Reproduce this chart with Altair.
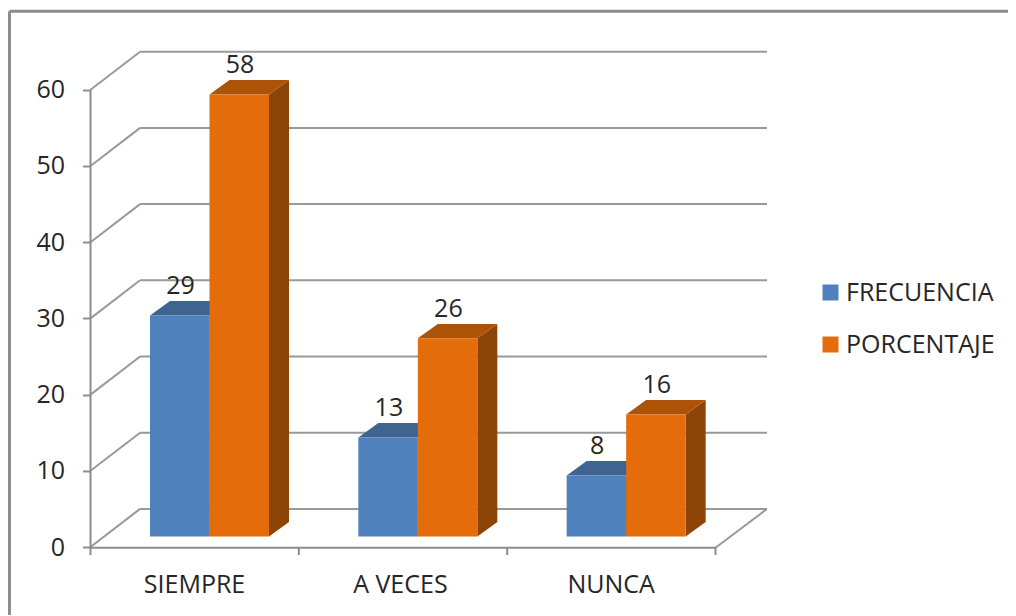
import altair as alt
import pandas as pd

categories = ["SIEMPRE", "A VECES", "NUNCA"]
series = ["FRECUENCIA", "PORCENTAJE"]
frecuencia = [29, 13, 8]
porcentaje = [58, 26, 16]
y_ticks = [0, 10, 20, 30, 40, 50, 60]

front_colors = ["#4f81bd", "#e46c0a"]
top_colors = ["#3e648f", "#ac5307"]
side_colors = ["#32527a", "#8e4406"]
line_color = "#999999"
frame_color = "#8c8c8c"
text_color = "#262626"
font = "Open Sans"

# Fake-3D geometry, in scale units (one category = 1 on x, one value = 1 on y)
X_MAX = 3.2472
Y_MAX = 65.09
WALL_DX, WALL_DY = 0.238, 5.0
BAR_W, BAR_DX, BAR_DY, BAR_BASE = 0.2856, 0.096, 1.9, 1.38

x_scale = alt.Scale(domain=[0, X_MAX], nice=False, zero=False)
y_scale = alt.Scale(domain=[0, Y_MAX], nice=False, zero=False)


def X(f, **kw):
    kw.setdefault("axis", None)
    return alt.X(f"{f}:Q", scale=x_scale, **kw)


def Y(f, **kw):
    kw.setdefault("axis", None)
    return alt.Y(f"{f}:Q", scale=y_scale, **kw)


def X2(f):
    return alt.X2(f"{f}")


def Y2(f):
    return alt.Y2(f"{f}")


# Rows
front, side, top, labels = [], [], [], []
for c, cat in enumerate(categories):
    for s, vals in enumerate([frecuencia, porcentaje]):
        v = vals[c]
        l = c + BAR_W * (s + 1)
        r = l + BAR_W
        key = f"{c}-{s}"
        front.append(dict(l=l, r=r, b=BAR_BASE, t=BAR_BASE + v, serie=series[s]))
        side.append(dict(k=key, s=s, x=r, y=BAR_BASE, y2=BAR_BASE + v))
        side.append(dict(k=key, s=s, x=r + BAR_DX, y=BAR_BASE + BAR_DY, y2=BAR_BASE + BAR_DY + v))
        top.append(dict(k=key, s=s, y=BAR_BASE + v, x=l, x2=r))
        top.append(dict(k=key, s=s, y=BAR_BASE + v + BAR_DY, x=l + BAR_DX, x2=r + BAR_DX))
        labels.append(dict(x=(l + r) / 2 + 0.004, y=BAR_BASE + v + BAR_DY, txt=str(v)))

grid_back = pd.DataFrame([dict(x=WALL_DX, x2=X_MAX, y=t + WALL_DY) for t in y_ticks])
grid_diag = pd.DataFrame(
    [dict(x=0, x2=WALL_DX, y=t, y2=t + WALL_DY) for t in y_ticks]
    + [dict(x=3, x2=X_MAX, y=-0.1, y2=WALL_DY)]
)
axis_lines = pd.DataFrame([
    dict(x=0, x2=0, y=-1.05, y2=60),
    dict(x=0, x2=3, y=-0.1, y2=-0.1),
    dict(x=1, x2=1, y=-1.05, y2=0),
    dict(x=2, x2=2, y=-1.05, y2=0),
    dict(x=3, x2=3, y=-1.05, y2=0),
])
frame = pd.DataFrame([
    dict(x=-0.389, x2=4.45, y=70.3, y2=70.3),
    dict(x=-0.389, x2=-0.389, y=70.3, y2=-9.5),
])
cat_pos = [0.497, 1.485, 2.497]
label_expr = "[" + ",".join(f"'{c}'" for c in categories) + "][round(datum.value-0.5)]"

base_axes = (
    alt.Chart(pd.DataFrame(dict(x=[0.0], y=[0.0])))
    .mark_point(opacity=0)
    .encode(
        x=X("x", axis=alt.Axis(values=cat_pos, labelExpr=label_expr, title=None, domain=False, ticks=False,
                               grid=False, labelPadding=25, labelFont=font, labelFontSize=25,
                               labelColor=text_color, labelBaseline="top", labelFlush=False)),
        y=Y("y", axis=alt.Axis(values=y_ticks, title=None, domain=False, grid=False, tickSize=8, tickWidth=2,
                               tickColor=frame_color, labelPadding=18, labelFont=font, labelFontSize=25,
                               labelColor=text_color)),
    )
)

frame_l = alt.Chart(frame).mark_rule(color=frame_color, strokeWidth=3).encode(
    x=X("x"), x2=X2("x2"), y=Y("y"), y2=Y2("y2"))
back_l = alt.Chart(grid_back).mark_rule(color=line_color, strokeWidth=2).encode(
    x=X("x"), x2=X2("x2"), y=Y("y"))
diag_l = alt.Chart(grid_diag).mark_rule(color=line_color, strokeWidth=2).encode(
    x=X("x"), x2=X2("x2"), y=Y("y"), y2=Y2("y2"))
axis_l = alt.Chart(axis_lines).mark_rule(color=frame_color, strokeWidth=2).encode(
    x=X("x"), x2=X2("x2"), y=Y("y"), y2=Y2("y2"))

side_l = alt.Chart(pd.DataFrame(side)).mark_area(orient="vertical").encode(
    x=X("x"), y=Y("y"), y2=Y2("y2"), detail="k:N",
    color=alt.Color("s:O", scale=alt.Scale(domain=[0, 1], range=side_colors), legend=None),
)
top_l = alt.Chart(pd.DataFrame(top)).mark_area(orient="horizontal").encode(
    y=Y("y"), x=X("x"), x2=X2("x2"), detail="k:N",
    color=alt.Color("s:O", scale=alt.Scale(domain=[0, 1], range=top_colors), legend=None),
)
front_l = alt.Chart(pd.DataFrame(front)).mark_rect().encode(
    x=X("l"), x2=X2("r"), y=Y("b"), y2=Y2("t"),
    color=alt.Color("serie:N", scale=alt.Scale(domain=series, range=front_colors),
                    legend=alt.Legend(title=None, orient="none", legendX=727.5, legendY=229,
                                      symbolType="square", symbolSize=256, symbolStrokeWidth=0,
                                      rowPadding=26, labelFont=font, labelFontSize=25, labelColor=text_color,
                                      labelOffset=3, labelLimit=250)),
)
text_l = alt.Chart(pd.DataFrame(labels)).mark_text(
    font=font, fontSize=25, color=text_color, baseline="alphabetic", align="center", dy=-7
).encode(x=X("x"), y=Y("y"), text="txt:N")

chart = (
    alt.layer(base_axes, frame_l, back_l, diag_l, axis_l, side_l, top_l, front_l, text_l)
    .resolve_scale(color="independent")
    .resolve_axis(x="independent", y="independent")
    .properties(
        width=676.5,
        height=496,
        autosize=alt.AutoSizeParams(type="none"),
        padding={"left": 82.5, "top": 43, "right": 241, "bottom": 68},
        background="white",
    )
    .configure_view(stroke=None)
)
chart.save("out.html", embed_options={"renderer": "svg", "actions": False})
